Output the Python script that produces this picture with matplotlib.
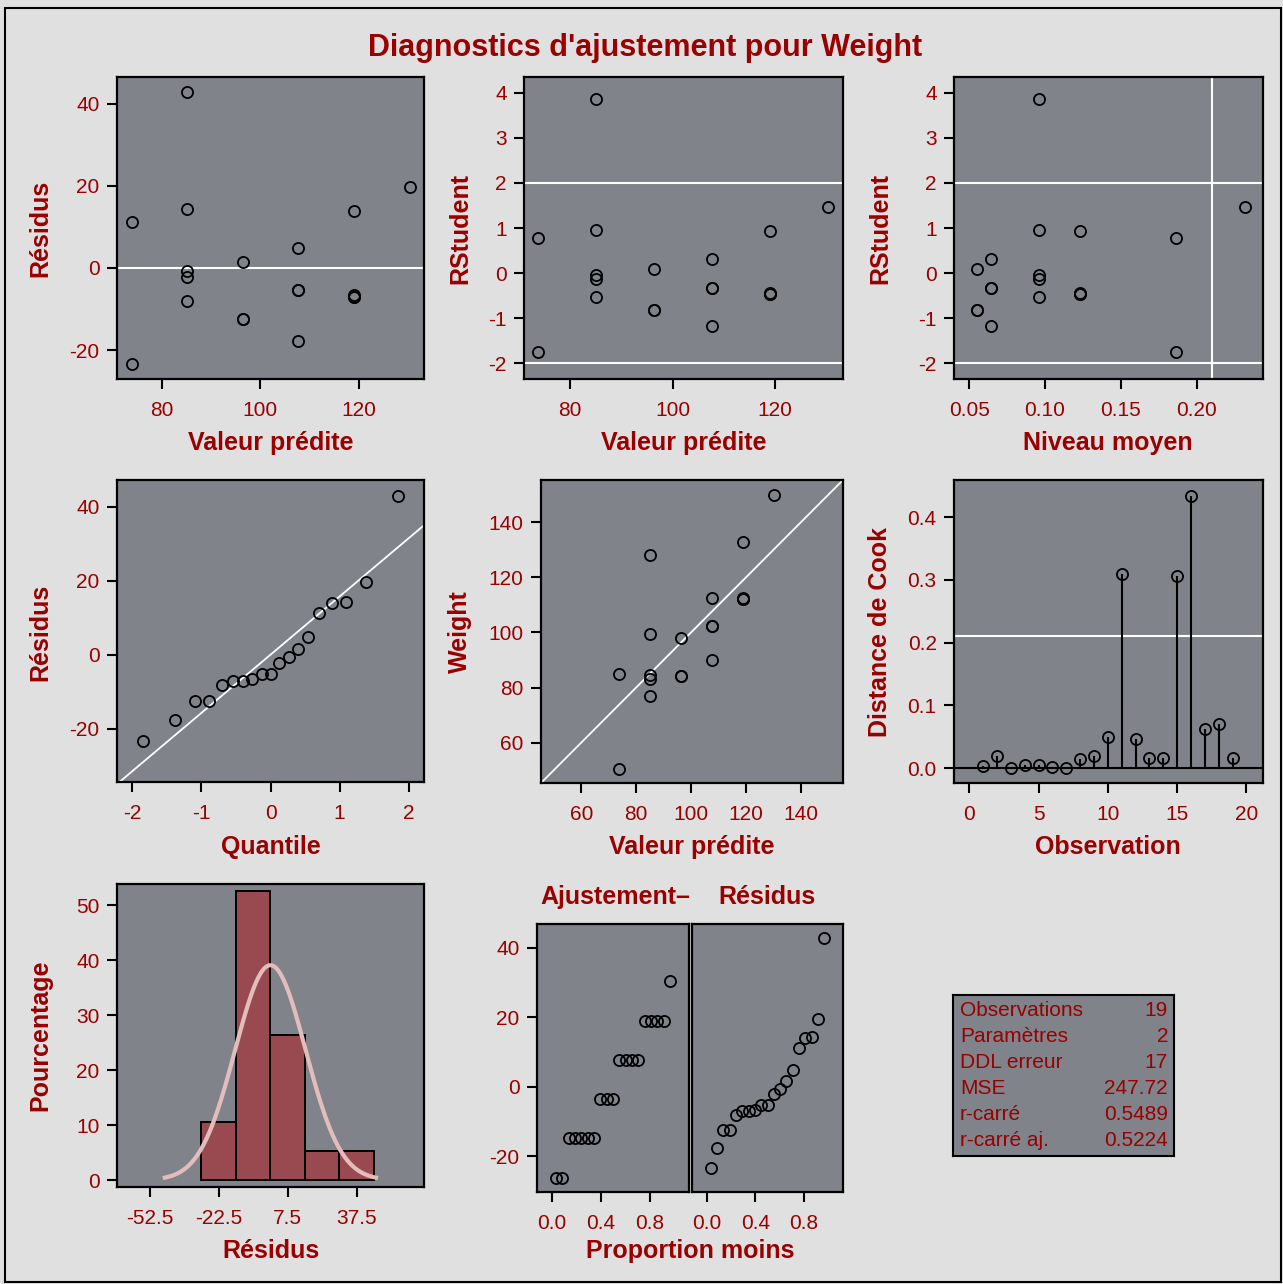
import numpy as np
import matplotlib
matplotlib.use("Agg")
import matplotlib.pyplot as plt
from matplotlib.patches import Rectangle

plt.rcParams['font.family'] = ['Liberation Sans', 'DejaVu Sans']
plt.rcParams['axes.unicode_minus'] = False

# ---------------- data ----------------
observation = list(range(1, 20))
predicted = [107.76, 96.46, 96.46, 107.76, 107.76, 85.15, 85.15, 119.07, 96.46, 85.15,
             73.85, 107.76, 85.15, 119.07, 130.37, 85.15, 119.07, 73.85, 119.07]
weight = [112.5, 84.0, 98.0, 102.5, 102.5, 83.0, 84.5, 112.5, 84.0, 99.5,
          50.5, 90.0, 77.0, 112.0, 150.0, 128.0, 133.0, 85.0, 112.0]
residual = [4.74, -12.46, 1.54, -5.26, -5.26, -2.15, -0.65, -6.57, -12.46, 14.35,
            -23.35, -17.76, -8.15, -7.07, 19.63, 42.85, 13.93, 11.15, -7.07]
rstudent = [0.303, -0.806, 0.098, -0.336, -0.336, -0.139, -0.042, -0.435, -0.806, 0.956,
            -1.740, -1.180, -0.533, -0.469, 1.472, 3.860, 0.942, 0.776, -0.469]
leverage = [0.0643, 0.0551, 0.0551, 0.0643, 0.0643, 0.0958, 0.0958, 0.1234, 0.0551, 0.0958,
            0.1864, 0.0643, 0.0958, 0.1234, 0.2323, 0.0958, 0.1234, 0.1864, 0.1234]
cooks_d = [0.0033, 0.0193, 0.0003, 0.0041, 0.0041, 0.0011, 0.0001, 0.0140, 0.0193, 0.0487,
           0.3099, 0.0468, 0.0157, 0.0162, 0.3066, 0.4343, 0.0629, 0.0707, 0.0162]

normal_quantile = [-1.846, -1.376, -1.097, -0.884, -0.705, -0.547, -0.401, -0.263, -0.130, 0.0,
                   0.130, 0.263, 0.401, 0.547, 0.705, 0.884, 1.097, 1.376, 1.846]
sorted_residual = [-23.35, -17.76, -12.46, -12.46, -8.15, -7.07, -7.07, -6.57, -5.26, -5.26,
                   -2.15, -0.65, 1.54, 4.74, 11.15, 13.93, 14.35, 19.63, 42.85]
proportion = [0.0325, 0.0844, 0.1364, 0.1883, 0.2403, 0.2922, 0.3442, 0.3961, 0.4481, 0.5,
              0.5519, 0.6039, 0.6558, 0.7078, 0.7597, 0.8117, 0.8636, 0.9156, 0.9675]
fit_minus_mean = [-26.18, -26.18, -14.87, -14.87, -14.87, -14.87, -14.87, -3.57, -3.57, -3.57,
                  7.74, 7.74, 7.74, 7.74, 19.04, 19.04, 19.04, 19.04, 30.35]

hist_mid = [-22.5, -7.5, 7.5, 22.5, 37.5]
hist_pct = [10.53, 52.63, 26.32, 5.26, 5.26]
hist_width = 15.0
resid_mean, resid_sd = 0.0, 15.30
root_mse = 15.74
rstudent_limits = [-2, 2]
leverage_cutoff = 0.2105
cooks_cutoff = 0.2105

stat_names = ["Observations", "Paramètres", "DDL erreur", "MSE", "r-carré", "r-carré aj."]
stat_values = ["19", "2", "17", "247.72", "0.5489", "0.5224"]

# ---------------- style ----------------
W, H = 1283, 1284
FIG_BG = '#e0e0e0'
PANEL = '#80838a'
RED = '#990000'
BAR = '#994a50'
CURVE = '#e3bcbc'
TICKFS = 15
LABFS = 18

fig = plt.figure(figsize=(W / 100, H / 100), dpi=100, facecolor=FIG_BG)


def rect(l, t, r, b):
    return [l / W, 1 - b / H, (r - l) / W, (b - t) / H]


def ftext(x, y, s, **kw):
    fig.text(x / W, 1 - y / H, s, **kw)


def style(ax):
    ax.set_facecolor(PANEL)
    for sp in ax.spines.values():
        sp.set_color('black')
        sp.set_linewidth(1.6)
    ax.tick_params(direction='out', length=7.5, width=1.5, colors='black',
                   labelcolor=RED, labelsize=TICKFS)
    ax.tick_params(axis='x', pad=8.5)
    ax.tick_params(axis='y', pad=5)


def circles(ax, x, y):
    ax.plot(x, y, linestyle='none', marker='o', markersize=8, markerfacecolor='none',
            markeredgecolor='black', markeredgewidth=1.3, zorder=5)


def xlab(x, y, s):
    ftext(x, y, s, ha='center', va='center', color=RED, fontsize=LABFS, fontweight='bold')


def ylab(x, y, s):
    ftext(x, y, s, ha='center', va='center', color=RED, fontsize=LABFS, fontweight='bold',
          rotation=90)


# outer border
fig.patches.append(Rectangle((5 / W, 1 - 1282 / H), (1281 - 5) / W, (1282 - 8) / H,
                             transform=fig.transFigure, fill=False, edgecolor='black',
                             linewidth=1.5))

ftext(645, 48, "Diagnostics d'ajustement pour Weight", ha='center', va='center',
      color=RED, fontsize=22, fontweight='bold')

# Panel 1: residual vs predicted
ax = fig.add_axes(rect(117, 77, 424, 379))
style(ax)
ax.axhline(0, color='white', lw=1.5)
circles(ax, predicted, residual)
ax.set_xlim(70.86, 133.3)
ax.set_ylim(-27.04, 46.47)
ax.set_xticks([80, 100, 120])
ax.set_yticks([-20, 0, 20, 40])
xlab(271, 443, "Valeur prédite")
ylab(40, 228, "Résidus")

# Panel 2: rstudent vs predicted
ax = fig.add_axes(rect(524, 77, 843, 379))
style(ax)
for v in rstudent_limits:
    ax.axhline(v, color='white', lw=1.5)
circles(ax, predicted, rstudent)
ax.set_xlim(71.04, 133.25)
ax.set_ylim(-2.345, 4.345)
ax.set_xticks([80, 100, 120])
ax.set_yticks([-2, -1, 0, 1, 2, 3, 4])
xlab(684, 443, "Valeur prédite")
ylab(460, 228, "RStudent")

# Panel 3: rstudent vs leverage
ax = fig.add_axes(rect(954, 77, 1263, 379))
style(ax)
for v in rstudent_limits:
    ax.axhline(v, color='white', lw=1.5)
ax.axvline(leverage_cutoff, color='white', lw=1.5)
circles(ax, leverage, rstudent)
ax.set_xlim(0.0399, 0.2439)
ax.set_ylim(-2.345, 4.345)
ax.set_xticks([0.05, 0.10, 0.15, 0.20])
ax.set_xticklabels(["0.05", "0.10", "0.15", "0.20"])
ax.set_yticks([-2, -1, 0, 1, 2, 3, 4])
xlab(1108, 443, "Niveau moyen")
ylab(880, 228, "RStudent")

# Panel 4: Q-Q plot
ax = fig.add_axes(rect(117, 480, 424, 782))
style(ax)
ax.axline((0, resid_mean), slope=root_mse, color='white', lw=1.3)
circles(ax, normal_quantile, sorted_residual)
ax.set_xlim(-2.221, 2.221)
ax.set_ylim(-34.4, 47.2)
ax.set_xticks([-2, -1, 0, 1, 2])
ax.set_yticks([-20, 0, 20, 40])
xlab(271, 847, "Quantile")
ylab(40, 632, "Résidus")

# Panel 5: weight vs predicted
ax = fig.add_axes(rect(541, 480, 843, 783))
style(ax)
ax.axline((60, 60), slope=1, color='white', lw=1.3)
circles(ax, predicted, weight)
ax.set_xlim(45.3, 155.4)
ax.set_ylim(45.3, 155.4)
ax.set_xticks([60, 80, 100, 120, 140])
ax.set_yticks([60, 80, 100, 120, 140])
xlab(692, 847, "Valeur prédite")
ylab(460, 632, "Weight")

# Panel 6: Cook's D
ax = fig.add_axes(rect(954, 480, 1263, 783))
style(ax)
ax.axhline(cooks_cutoff, color='white', lw=1.5)
ax.axhline(0, color='black', lw=1.5)
ax.vlines(observation, 0, cooks_d, color='black', lw=1.5)
circles(ax, observation, cooks_d)
ax.set_xlim(-1.106, 21.2)
ax.set_ylim(-0.0239, 0.4595)
ax.set_xticks([0, 5, 10, 15, 20])
ax.set_yticks([0.0, 0.1, 0.2, 0.3, 0.4])
ax.set_yticklabels(["0.0", "0.1", "0.2", "0.3", "0.4"])
xlab(1108, 847, "Observation")
ylab(880, 632, "Distance de Cook")

# Panel 7: histogram of residuals
ax = fig.add_axes(rect(117, 884, 424, 1187))
style(ax)
ax.bar(hist_mid, hist_pct, width=hist_width, color=BAR, edgecolor='black', linewidth=1.4,
       zorder=2)
xc = np.linspace(resid_mean - 3 * resid_sd, resid_mean + 3 * resid_sd, 300)
yc = 100 * hist_width * np.exp(-0.5 * ((xc - resid_mean) / resid_sd) ** 2) / (resid_sd * np.sqrt(2 * np.pi))
ax.plot(xc, yc, color=CURVE, lw=3, zorder=3)
ax.set_xlim(-66.7, 66.8)
ax.set_ylim(-1.27, 53.9)
ax.set_xticks([-52.5, -22.5, 7.5, 37.5])
ax.set_xticklabels(["-52.5", "-22.5", "7.5", "37.5"])
ax.set_yticks([0, 10, 20, 30, 40, 50])
xlab(271, 1251, "Résidus")
ylab(40, 1035, "Pourcentage")

# Panel 8: residual-fit spread
axa = fig.add_axes(rect(537, 924, 689, 1192))
style(axa)
circles(axa, proportion, fit_minus_mean)
axb = fig.add_axes(rect(692, 924, 843, 1192), sharey=axa)
style(axb)
circles(axb, proportion, sorted_residual)
for a in (axa, axb):
    a.set_xlim(-0.123, 1.123)
    a.set_xticks([0.0, 0.4, 0.8])
    a.set_xticklabels(["0.0", "0.4", "0.8"])
axa.set_ylim(-30.3, 46.9)
axa.set_yticks([-20, 0, 20, 40])
axb.tick_params(axis='y', left=False, labelleft=False)
ftext(615, 897, "Ajustement–", ha='center', va='center', color=RED, fontsize=LABFS,
      fontweight='bold')
ftext(767, 897, "Résidus", ha='center', va='center', color=RED, fontsize=LABFS,
      fontweight='bold')
xlab(690, 1251, "Proportion moins")

# Stats box
axs = fig.add_axes(rect(953, 995, 1174, 1156))
axs.set_facecolor(PANEL)
for sp in axs.spines.values():
    sp.set_color('black')
    sp.set_linewidth(1.5)
axs.set_xticks([])
axs.set_yticks([])
row_y = [1010, 1036, 1062, 1088, 1114, 1140]
for name, val, yy in zip(stat_names, stat_values, row_y):
    ftext(960, yy, name, ha='left', va='center', color=RED, fontsize=15)
    ftext(1168, yy, val, ha='right', va='center', color=RED, fontsize=15)

fig.savefig("out.png", dpi=100, facecolor=FIG_BG)
